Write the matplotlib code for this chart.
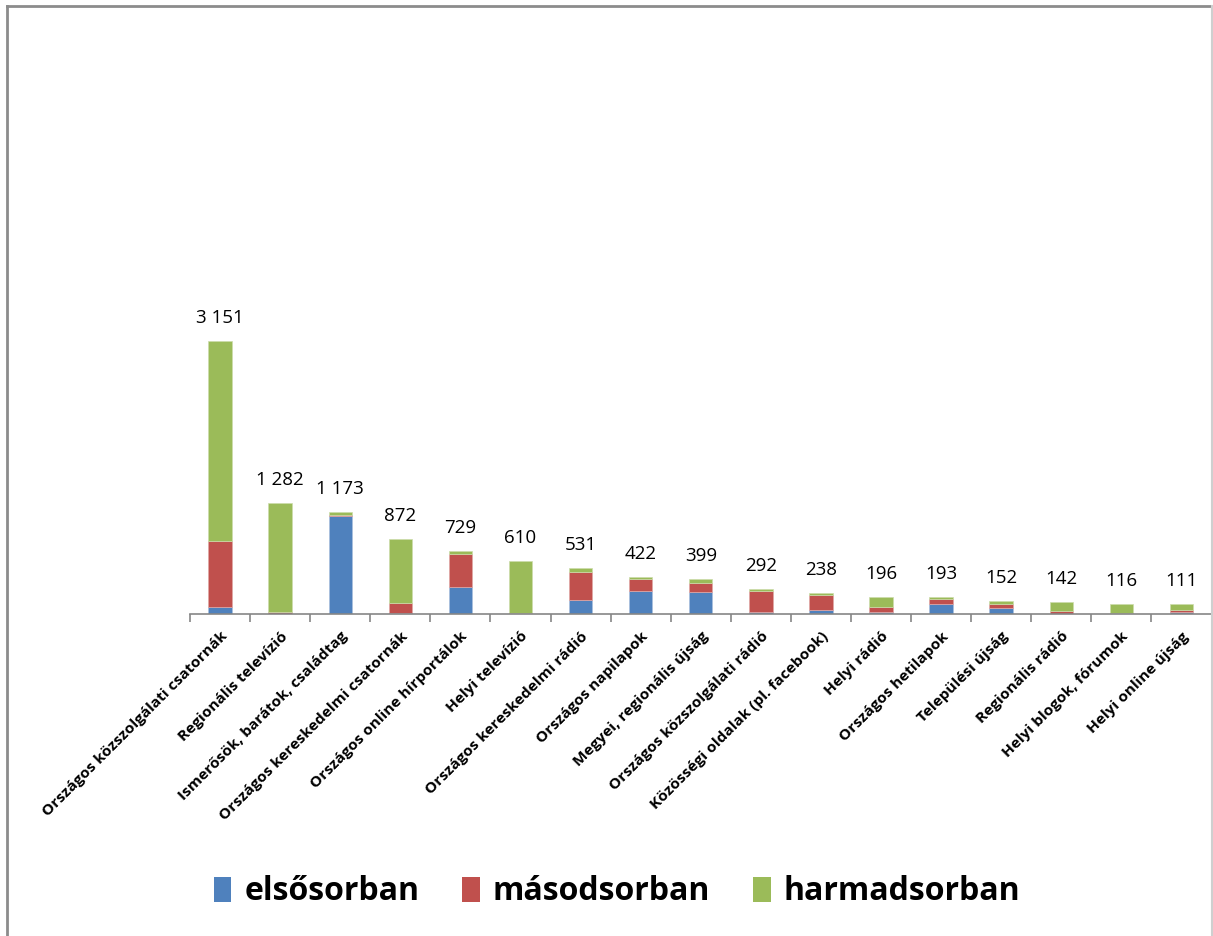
import matplotlib
matplotlib.use("Agg")
import matplotlib.pyplot as plt
from matplotlib.lines import Line2D
from matplotlib.patches import Patch
import numpy as np

categories = [
    "Országos közszolgálati csatornák",
    "Regionális televízió",
    "Ismerősök, barátok, családtag",
    "Országos kereskedelmi csatornák",
    "Országos online hírportálok",
    "Helyi televízió",
    "Országos kereskedelmi rádió",
    "Országos napilapok",
    "Megyei, regionális újság",
    "Országos közszolgálati rádió",
    "Közösségi oldalak (pl. facebook)",
    "Helyi rádió",
    "Országos hetilapok",
    "Települési újság",
    "Regionális rádió",
    "Helyi blogok, fórumok",
    "Helyi online újság",
]
elsosorban = [77, 5, 1134, 10, 308, 2, 158, 269, 250, 20, 42, 25, 119, 73, 5, 2, 27]
masodsorban = [762, 15, 5, 120, 388, 13, 330, 131, 111, 240, 175, 60, 54, 42, 35, 4, 23]
harmadsorban = [2312, 1262, 34, 742, 33, 595, 43, 22, 38, 32, 21, 111, 20, 37, 102, 110, 61]
totals = [3151, 1282, 1173, 872, 729, 610, 531, 422, 399, 292, 238, 196, 193, 152, 142, 116, 111]
series_names = ["elsősorban", "másodsorban", "harmadsorban"]
colors = ["#4F81BD", "#C0504D", "#9BBB59"]

FONT = "Open Sans"
W, H = 1213, 936
fig = plt.figure(figsize=(W / 100, H / 100), dpi=100)
ax = fig.add_axes([190 / W, 1 - 614 / H, (1211.5 - 190) / W, 303 / H])

x = np.arange(len(categories))
bw = 0.39
b1 = np.array(elsosorban)
b2 = np.array(masodsorban)
b3 = np.array(harmadsorban)
ax.bar(x, b1, bw, color=colors[0], edgecolor="#a9c0de", linewidth=0.5)
ax.bar(x, b2, bw, bottom=b1, color=colors[1], edgecolor="#e0a8a6", linewidth=0.5)
ax.bar(x, b3, bw, bottom=b1 + b2, color=colors[2], edgecolor="#cddcab", linewidth=0.5)

for xi, t, s in zip(x, totals, b1 + b2 + b3):
    lab = f"{t:,}".replace(",", " ")
    ax.annotate(lab, (xi, s), xytext=(0, 14), textcoords="offset pixels",
                ha="center", va="bottom", fontsize=13.5, family=FONT, color="black")

ax.set_xlim(-0.5, len(categories) - 0.5)
ax.set_ylim(0, 3500)
for sp in ["top", "right", "left"]:
    ax.spines[sp].set_visible(False)
ax.spines["bottom"].set_color("#868686")
ax.spines["bottom"].set_linewidth(1.2)
ax.set_yticks([])
ax.set_xticks(x)
ax.set_xticklabels(categories, rotation=45, ha="right", va="top",
                   rotation_mode="anchor", fontsize=11.1, fontweight="bold", family=FONT)
ax.tick_params(axis="x", which="major", length=0, pad=11)
ax.set_xticks(np.arange(-0.5, len(categories), 1), minor=True)
ax.tick_params(axis="x", which="minor", length=6, width=1.2, color="#868686", direction="out")

handles = [Patch(facecolor=c, edgecolor="none") for c in colors]
leg = fig.legend(handles, series_names, loc="center", bbox_to_anchor=(617 / W, 1 - 892 / H),
                 ncol=3, frameon=False, handlelength=0.55, handleheight=0.8,
                 handletextpad=0.4, columnspacing=1.35,
                 prop={"family": FONT, "weight": "bold", "size": 23})

# outer frame
fig.add_artist(Line2D([7 / W, 1212 / W], [1 - 6 / H, 1 - 6 / H], transform=fig.transFigure, color="#8c8c8c", lw=2))
fig.add_artist(Line2D([7 / W, 7 / W], [0, 1 - 6 / H], transform=fig.transFigure, color="#8c8c8c", lw=2))
fig.add_artist(Line2D([1212 / W, 1212 / W], [0, 1 - 6 / H], transform=fig.transFigure, color="#cfcfcf", lw=1.5))

fig.savefig("out.png", dpi=100)
